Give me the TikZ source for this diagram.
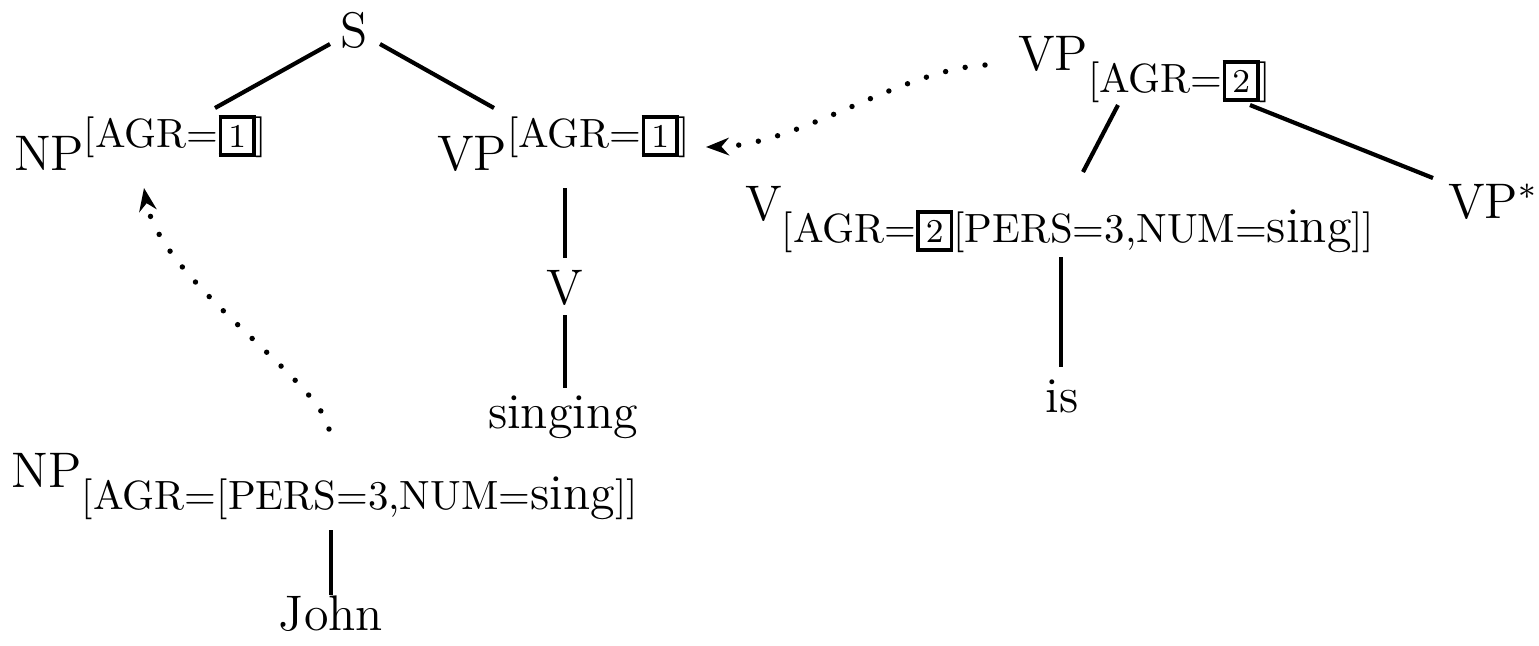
\documentclass[tikz,border=0pt]{standalone}
\usetikzlibrary{arrows.meta}
\newcommand\fsup[1]{\raisebox{5.5pt}{\fontsize{9.8}{12}\selectfont #1}}
\newcommand\fsub[1]{\raisebox{-5.3pt}{\fontsize{9.8}{12}\selectfont #1}}
\newcommand\bx[1]{\fbox{\fontsize{8}{9}\selectfont #1}}
\newcommand\val[1]{{\fontsize{12}{14}\selectfont #1}}
\setlength\fboxsep{1.5pt}
\setlength\fboxrule{0.8pt}
\tikzset{
  lbl/.style={inner sep=0pt, outer sep=0pt, font=\fontsize{12}{14}\selectfont},
  branch/.style={line width=1pt},
  link/.style={line width=1.3pt, line cap=round, dash pattern=on 0pt off 4.8pt,
    -{Stealth[length=5.5pt,width=4.2pt,inset=1.8pt]}},
}
\begin{document}
\begin{tikzpicture}[x=0.24pt,y=-0.24pt]
\useasboundingbox (0,0) rectangle (1539,645);
\node[lbl,anchor=base] (S) at (354,47) {S};
\node[lbl,anchor=base west] (NPa) at (14,170) {NP\fsup{[AGR=\bx{1}]}};
\node[lbl,anchor=base west] (VPa) at (437,170) {VP\fsup{[AGR=\bx{1}]}};
\node[lbl,anchor=base] (V1) at (565,304) {V};
\node[lbl,anchor=base] (singing) at (563,428) {singing};
\node[lbl,anchor=base west] (NPb) at (12,487) {NP\fsub{[AGR=[PERS=3,NUM=\val{sing}]]}};
\node[lbl,anchor=base] (John) at (331,630) {John};
\node[lbl,anchor=base west] (VPb) at (1018,70) {VP\fsub{[AGR=\bx{2}]}};
\node[lbl,anchor=base west] (V2) at (745,220) {V\fsub{[AGR=\bx{2}[PERS=3,NUM=\val{sing}]]}};
\node[lbl,anchor=base west] (VPs) at (1448,218) {VP$^*$};
\node[lbl,anchor=base] (is) at (1062,412) {is};

\draw[branch] ([shift={(-24,-3)}]S.base) -- ([shift={(201,-62)}]NPa.base west);
\draw[branch] ([shift={(26,-3)}]S.base) -- ([shift={(57,-62)}]VPa.base west);
\draw[branch] ([shift={(128,18)}]VPa.base west) -- ([shift={(0,-46)}]V1.base);
\draw[branch] ([shift={(0,11)}]V1.base) -- ([shift={(2,-40)}]singing.base);
\draw[branch] ([shift={(319,43)}]NPb.base west) -- ([shift={(0,-35)}]John.base);
\draw[branch] ([shift={(100,35)}]VPb.base west) -- ([shift={(338,-48)}]V2.base west);
\draw[branch] ([shift={(232,35)}]VPb.base west) -- ([shift={(-15,-40)}]VPs.base west);
\draw[branch] ([shift={(316,37)}]V2.base west) -- ([shift={(-1,-45)}]is.base);

\draw[link] ([shift={(-33,-5)}]VPb.base west) .. controls (900,70) and (800,145) .. ([shift={(269,-23)}]VPa.base west);
\draw[link] ([shift={(317,-58)}]NPb.base west) .. controls (320,380) and (160,280) .. ([shift={(130,18)}]NPa.base west);
\end{tikzpicture}
\end{document}
